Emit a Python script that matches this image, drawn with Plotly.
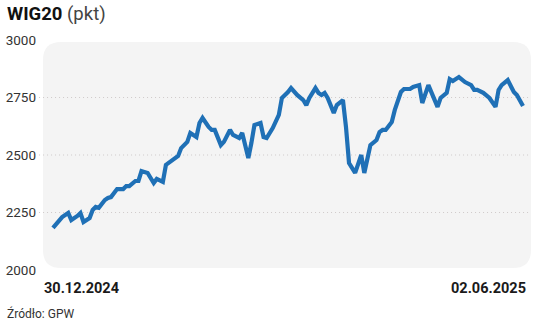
import pandas as pd
import plotly.graph_objects as go

# ---- data ----
start_date = "2024-12-30"
day_offsets = [0, 2, 3, 5, 6, 8, 9, 10, 12, 13, 14, 15, 16, 17, 18, 19, 21, 23, 24, 25,
               27, 28, 29, 31, 32, 33, 34, 36, 37, 39, 41, 42, 44, 45, 47, 48, 49, 51, 52, 53,
               55, 56, 58, 59, 61, 62, 64, 65, 66, 68, 69, 70, 72, 74, 75, 77, 78, 80, 82, 83,
               84, 86, 87, 88, 89, 90, 92, 93, 95, 96, 97, 99, 101, 102, 104, 106, 107, 108, 109, 111,
               112, 114, 115, 117, 118, 120, 121, 123, 124, 126, 127, 129, 130, 131, 133, 135, 137, 138, 139, 141,
               143, 145, 146, 147, 149, 151, 152, 154]
wig20 = [2183, 2217, 2230, 2248, 2217, 2235, 2248, 2209, 2226, 2261, 2274, 2270, 2291, 2304, 2313, 2317, 2352, 2352, 2365, 2365,
         2387, 2387, 2430, 2422, 2400, 2378, 2396, 2383, 2457, 2478, 2496, 2530, 2557, 2596, 2578, 2639, 2661, 2622, 2609, 2609,
         2543, 2557, 2609, 2587, 2574, 2596, 2487, 2552, 2630, 2639, 2578, 2574, 2617, 2674, 2748, 2774, 2791, 2761, 2739, 2717,
         2748, 2791, 2770, 2761, 2770, 2748, 2683, 2717, 2739, 2622, 2465, 2422, 2500, 2422, 2543, 2565, 2600, 2609, 2609, 2643,
         2696, 2774, 2787, 2787, 2796, 2804, 2726, 2804, 2770, 2709, 2748, 2770, 2830, 2822, 2839, 2817, 2804, 2783, 2783, 2770,
         2748, 2709, 2783, 2804, 2826, 2774, 2761, 2713]
y_ticks = [2000, 2250, 2500, 2750, 3000]
grid_values = [2250, 2500, 2750]
x_tick_labels = ["30.12.2024", "02.06.2025"]
title_main = "WIG20"
title_unit = "(pkt)"
source_text = "Źródło: GPW"

dates = pd.Timestamp(start_date) + pd.to_timedelta(day_offsets, unit="D")

W, H = 536, 321
ml, mr, mt, mb = 42, 4, 40, 51
pw, ph = W - ml - mr, H - mt - mb

fig = go.Figure()
fig.add_trace(go.Scatter(x=dates, y=wig20, mode="lines",
                         line=dict(color="#1f70b6", width=4.2, shape="linear"),
                         hoverinfo="skip"))

# rounded grey panel (paper coords)
x0, x1 = 1 / pw, (pw - 1) / pw
y0, y1 = 2 / ph, (ph - 2) / ph
rx, ry = 18 / pw, 18 / ph
path = (f"M {x0+rx},{y0} L {x1-rx},{y0} Q {x1},{y0} {x1},{y0+ry} "
        f"L {x1},{y1-ry} Q {x1},{y1} {x1-rx},{y1} L {x0+rx},{y1} "
        f"Q {x0},{y1} {x0},{y1-ry} L {x0},{y0+ry} Q {x0},{y0} {x0+rx},{y0} Z")
fig.add_shape(type="path", path=path, xref="paper", yref="paper",
              fillcolor="#f4f4f4", line=dict(width=0), layer="below")

for g in grid_values:
    fig.add_shape(type="line", xref="paper", yref="y", x0=-0.006, x1=x1, y0=g, y1=g,
                  line=dict(color="#cfcaca", width=1, dash="1px,3px"), layer="below")

x_start = dates[0] - pd.Timedelta(days=3.6)
x_end = dates[-1] + pd.Timedelta(days=2.95)

fig.update_xaxes(range=[x_start, x_end], showgrid=False, showticklabels=False,
                 zeroline=False, showline=False)
fig.update_yaxes(range=[2000, 3000], tickvals=y_ticks, showgrid=False, zeroline=False,
                 showline=False, ticks="", ticklabelstandoff=5,
                 tickfont=dict(family="Roboto", size=13.5, color="#333333"))

fig.add_annotation(text=x_tick_labels[0], xref="paper", yref="paper", x=0, y=0,
                   xanchor="left", yanchor="top", yshift=-8, showarrow=False,
                   font=dict(family="Roboto", size=14.5, color="#1a1a1a", weight="bold"))
fig.add_annotation(text=x_tick_labels[1], xref="paper", yref="paper", x=(pw - 4) / pw, y=0,
                   xanchor="right", yanchor="top", yshift=-8, showarrow=False,
                   font=dict(family="Roboto", size=14.5, color="#1a1a1a", weight="bold"))

fig.add_annotation(text=f"<b>{title_main}</b> <span style='color:#444'>{title_unit}</span>",
                   xref="paper", yref="paper", x=(5 - ml) / pw, y=1 + 26 / ph,
                   xanchor="left", yanchor="middle", showarrow=False,
                   font=dict(family="Roboto", size=18.5, color="#111111"))
fig.add_annotation(text=source_text, xref="paper", yref="paper",
                   x=(5 - ml) / pw, y=0, yshift=-43,
                   xanchor="left", yanchor="middle", showarrow=False,
                   font=dict(family="Roboto", size=12, color="#333333"))

fig.update_layout(width=W, height=H, margin=dict(l=ml, r=mr, t=mt, b=mb),
                  paper_bgcolor="white", plot_bgcolor="rgba(0,0,0,0)",
                  showlegend=False)

fig.write_html("out.html")
